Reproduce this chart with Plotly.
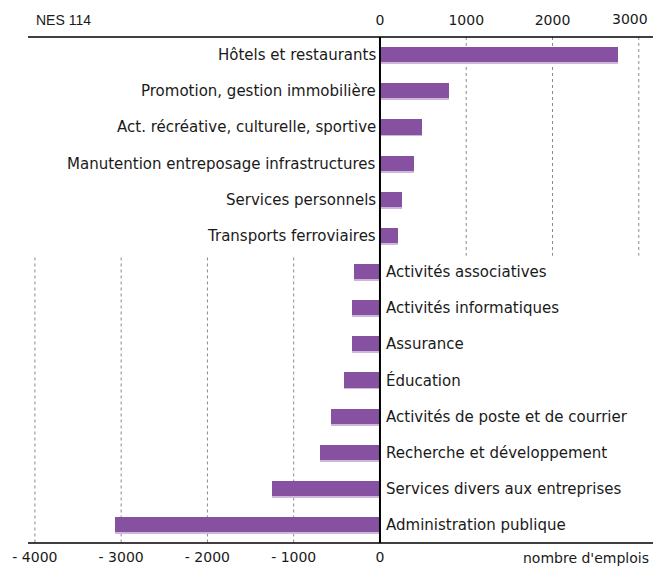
import plotly.graph_objects as go

# emplois gagnés / perdus par secteur (NES 114)
secteurs_plus = ["Hôtels et restaurants", "Promotion, gestion immobilière",
                 "Act. récréative, culturelle, sportive", "Manutention entreposage infrastructures",
                 "Services personnels", "Transports ferroviaires"]
valeurs_plus = [2760, 800, 490, 400, 255, 205]

secteurs_moins = ["Activités associatives", "Activités informatiques", "Assurance", "Éducation",
                  "Activités de poste et de courrier", "Recherche et développement",
                  "Services divers aux entreprises", "Administration publique"]
valeurs_moins = [-300, -330, -330, -420, -570, -700, -1250, -3070]

ticks_haut = [0, 1000, 2000, 3000]
ticks_bas = [-4000, -3000, -2000, -1000, 0]
labels_bas = ["- 4000", "- 3000", "- 2000", "- 1000", "0"]

secteurs = secteurs_plus + secteurs_moins
valeurs = valeurs_plus + valeurs_moins
rangs = list(range(len(secteurs)))

VIOLET = "#8651a0"
OMBRE = "#cdb8da"
FONT = "DejaVu Sans"
TXT = "#1a1a1a"
n_plus = len(secteurs_plus)

fig = go.Figure()
# ombre légère sous les barres
fig.add_bar(x=valeurs, y=rangs, orientation="h", width=0.42, offset=-0.17,
            marker=dict(color=OMBRE, line=dict(width=0)), hoverinfo="skip", showlegend=False)
fig.add_bar(x=valeurs, y=rangs, orientation="h", width=0.42, offset=-0.22,
            marker=dict(color=VIOLET, line=dict(width=0)), showlegend=False,
            hovertext=secteurs, hoverinfo="text+x")

# axe fantôme en haut pour les ticks positifs
fig.add_scatter(x=[0, 3000], y=[0, 0], xaxis="x2", mode="markers",
                marker=dict(opacity=0), hoverinfo="skip", showlegend=False)

shapes = []
# grilles pointillées : moitié haute pour le positif, moitié basse pour le négatif
for t in ticks_haut[1:]:
    shapes.append(dict(type="line", x0=t, x1=t, y0=-0.5, y1=n_plus - 0.45, xref="x", yref="y",
                       line=dict(color="#8a8a8a", width=1, dash="dot"), layer="below"))
for t in ticks_bas[:-1]:
    shapes.append(dict(type="line", x0=t, x1=t, y0=n_plus - 0.4, y1=len(secteurs) - 0.5, xref="x", yref="y",
                       line=dict(color="#8a8a8a", width=1, dash="dot"), layer="below"))
# axe zéro, bordures haut et bas
shapes.append(dict(type="line", x0=0, x1=0, y0=-0.5, y1=len(secteurs) - 0.5, xref="x", yref="y",
                   line=dict(color="black", width=2)))
shapes.append(dict(type="line", x0=0, x1=1, y0=1, y1=1, xref="paper", yref="paper",
                   line=dict(color="black", width=1.5)))
shapes.append(dict(type="line", x0=0, x1=1, y0=0, y1=0, xref="paper", yref="paper",
                   line=dict(color="black", width=1.5)))

annotations = []
for i, (s, v) in enumerate(zip(secteurs, valeurs)):
    if v > 0:
        annotations.append(dict(x=0, y=i, text=s, showarrow=False, xanchor="right", xshift=-2,
                                font=dict(family=FONT, size=15, color=TXT)))
    else:
        annotations.append(dict(x=0, y=i, text=s, showarrow=False, xanchor="left", xshift=4,
                                font=dict(family=FONT, size=15, color=TXT)))
annotations.append(dict(x=0.0, y=1, xref="paper", yref="paper", text="NES 114", showarrow=False,
                        xanchor="left", yanchor="bottom", xshift=6, yshift=7,
                        font=dict(family="Liberation Sans", size=14, color=TXT)))
annotations.append(dict(x=1, y=0, xref="paper", yref="paper", text="nombre d'emplois", showarrow=False,
                        xanchor="right", yanchor="top", yshift=-5, xshift=-2,
                        font=dict(family=FONT, size=14, color=TXT)))
# dernier tick du haut : décalé pour rester dans la page
labels_haut = [str(t) for t in ticks_haut[:-1]] + [""]
annotations.append(dict(x=ticks_haut[-1], y=1, xref="x", yref="paper", text=str(ticks_haut[-1]),
                        showarrow=False, xanchor="right", yanchor="bottom", xshift=11, yshift=8,
                        font=dict(family=FONT, size=14, color=TXT)))

rng = [-4080, 3165]
fig.update_layout(
    width=653, height=566,
    margin=dict(l=28, r=0, t=37, b=23, autoexpand=False),
    plot_bgcolor="white", paper_bgcolor="white",
    barmode="overlay",
    bargap=0,
    font=dict(family=FONT, size=14, color=TXT),
    xaxis=dict(range=rng, tickvals=ticks_bas, ticktext=labels_bas, showgrid=False, automargin=False,
               zeroline=False, showline=False, ticks="", ticklabelstandoff=4,
               tickfont=dict(size=14, color=TXT)),
    xaxis2=dict(range=rng, overlaying="x", side="top", tickvals=ticks_haut, ticktext=labels_haut,
                showgrid=False, automargin=False,
                zeroline=False, showline=False, ticks="", ticklabelstandoff=8,
                tickfont=dict(size=14, color=TXT)),
    yaxis=dict(range=[len(secteurs) - 0.5, -0.5], showticklabels=False, showgrid=False, automargin=False,
               zeroline=False, showline=False, ticks=""),
    shapes=shapes,
    annotations=annotations,
)

# pas de marge de page autour du graphique
fig.write_html("out.html", config={"displayModeBar": False},
               post_script="document.body.style.margin='0';document.body.style.overflow='hidden';")
